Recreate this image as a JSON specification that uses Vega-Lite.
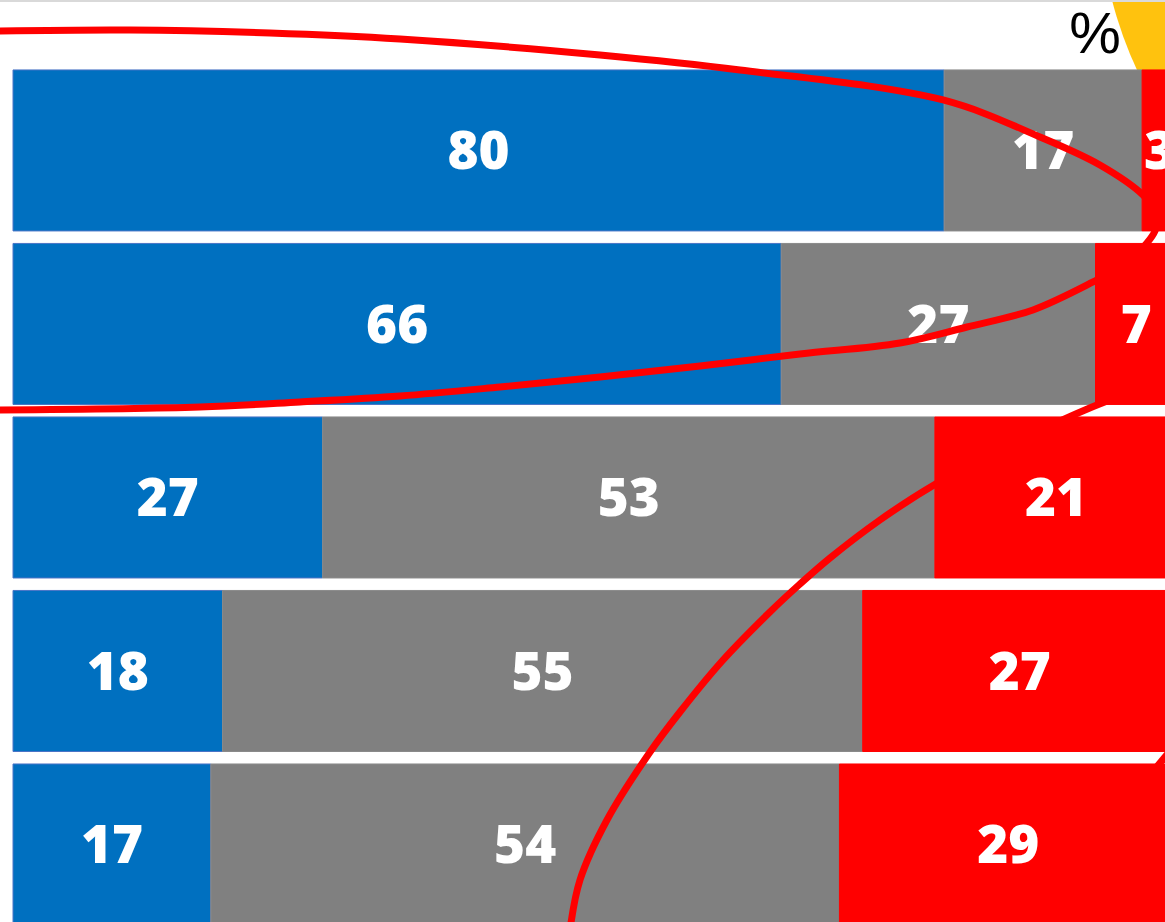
{
  "$schema": "https://vega.github.io/schema/vega-lite/v6.json",
  "width": 1165,
  "height": 922,
  "autosize": {"type": "none"},
  "padding": 0,
  "background": "white",
  "config": {"view": {"stroke": null}},
  "datasets": {
    "bars": [
      {"row": "1", "cat": "favorable", "ord": 1, "value": 80, "label": 80},
      {"row": "1", "cat": "neutral", "ord": 2, "value": 17, "label": 17},
      {"row": "1", "cat": "unfavorable", "ord": 3, "value": 3, "label": 3},
      {"row": "2", "cat": "favorable", "ord": 1, "value": 66, "label": 66},
      {"row": "2", "cat": "neutral", "ord": 2, "value": 27, "label": 27},
      {"row": "2", "cat": "unfavorable", "ord": 3, "value": 7, "label": 7},
      {"row": "3", "cat": "favorable", "ord": 1, "value": 26.6, "label": 27},
      {"row": "3", "cat": "neutral", "ord": 2, "value": 52.6, "label": 53},
      {"row": "3", "cat": "unfavorable", "ord": 3, "value": 20.8, "label": 21},
      {"row": "4", "cat": "favorable", "ord": 1, "value": 18, "label": 18},
      {"row": "4", "cat": "neutral", "ord": 2, "value": 55, "label": 55},
      {"row": "4", "cat": "unfavorable", "ord": 3, "value": 27, "label": 27},
      {"row": "5", "cat": "favorable", "ord": 1, "value": 17, "label": 17},
      {"row": "5", "cat": "neutral", "ord": 2, "value": 54, "label": 54},
      {"row": "5", "cat": "unfavorable", "ord": 3, "value": 29, "label": 29}
    ],
    "curves": [
      {"curve": "a", "i": 1, "x": -1.546, "y": 0.3112},
      {"curve": "a", "i": 2, "x": 10.05, "y": 0.3055},
      {"curve": "a", "i": 3, "x": 22.08, "y": 0.3228},
      {"curve": "a", "i": 4, "x": 33.25, "y": 0.3573},
      {"curve": "a", "i": 5, "x": 50.43, "y": 0.4496},
      {"curve": "a", "i": 6, "x": 62.46, "y": 0.536},
      {"curve": "a", "i": 7, "x": 79.9, "y": 0.7089},
      {"curve": "a", "i": 8, "x": 88.23, "y": 0.9222},
      {"curve": "a", "i": 9, "x": 93.38, "y": 1.0836},
      {"curve": "a", "i": 10, "x": 97.08, "y": 1.2565},
      {"curve": "a", "i": 11, "x": 98.37, "y": 1.3718},
      {"curve": "a", "i": 12, "x": 98.11, "y": 1.464},
      {"curve": "a", "i": 13, "x": 97.42, "y": 1.5331},
      {"curve": "a", "i": 14, "x": 95.53, "y": 1.6599},
      {"curve": "a", "i": 15, "x": 93.13, "y": 1.7464},
      {"curve": "a", "i": 16, "x": 87.63, "y": 1.9193},
      {"curve": "a", "i": 17, "x": 81.96, "y": 2.0173},
      {"curve": "a", "i": 18, "x": 76.2, "y": 2.1095},
      {"curve": "a", "i": 19, "x": 67.61, "y": 2.1729},
      {"curve": "a", "i": 20, "x": 59.02, "y": 2.2421},
      {"curve": "a", "i": 21, "x": 50.43, "y": 2.3055},
      {"curve": "a", "i": 22, "x": 41.84, "y": 2.3631},
      {"curve": "a", "i": 23, "x": 33.25, "y": 2.415},
      {"curve": "a", "i": 24, "x": 24.66, "y": 2.4496},
      {"curve": "a", "i": 25, "x": 16.07, "y": 2.4784},
      {"curve": "a", "i": 26, "x": -1.546, "y": 2.4957},
      {"curve": "b", "i": 1, "x": 47.85, "y": 5.4928},
      {"curve": "b", "i": 2, "x": 48.71, "y": 5.2046},
      {"curve": "b", "i": 3, "x": 51.03, "y": 4.8588},
      {"curve": "b", "i": 4, "x": 54.73, "y": 4.4669},
      {"curve": "b", "i": 5, "x": 57.3, "y": 4.2363},
      {"curve": "b", "i": 6, "x": 61.0, "y": 3.9366},
      {"curve": "b", "i": 7, "x": 65.03, "y": 3.6599},
      {"curve": "b", "i": 8, "x": 67.61, "y": 3.4986},
      {"curve": "b", "i": 9, "x": 70.19, "y": 3.3487},
      {"curve": "b", "i": 10, "x": 74.48, "y": 3.1297},
      {"curve": "b", "i": 11, "x": 79.12, "y": 2.928},
      {"curve": "b", "i": 12, "x": 84.79, "y": 2.7262},
      {"curve": "b", "i": 13, "x": 92.1, "y": 2.4957},
      {"curve": "b", "i": 14, "x": 99.83, "y": 2.2997},
      {"curve": "c", "i": 1, "x": 97.68, "y": 4.5994},
      {"curve": "c", "i": 2, "x": 99.83, "y": 4.4265}
    ],
    "marks": [
      {"label": "%", "x": 92.96, "y": 0.3401}
    ],
    "badge": [
      {"x": 128.44, "y": -0.4553}
    ]
  },
  "layer": [
    {
      "data": {"name": "badge"},
      "mark": {"type": "point", "shape": "circle", "filled": true, "size": 669124, "color": "#FFC20E", "opacity": 1, "strokeWidth": 0, "clip": true},
      "encoding": {
        "x": {"field": "x", "type": "quantitative", "scale": {"domain": [-1.117, 98.97], "nice": false, "zero": false}, "axis": null},
        "y": {"field": "y", "type": "quantitative", "scale": {"domain": [0.1326, 5.4467], "reverse": true, "nice": false, "zero": false}, "axis": null}
      }
    },
    {
      "data": {"name": "bars"},
      "transform": [
        {"stack": "value", "groupby": ["row"], "sort": [{"field": "ord", "order": "ascending"}], "as": ["v0", "v1"]},
        {"calculate": "(datum.v0 + datum.v1) / 2", "as": "mid"}
      ],
      "encoding": {
        "y": {"field": "row", "type": "nominal", "scale": {"type": "band", "domain": ["1", "2", "3", "4", "5"], "range": [0, 925], "paddingInner": 0.072, "paddingOuter": 0.2015, "align": 1}, "axis": null}
      },
      "layer": [
        {
          "mark": {"type": "bar", "strokeWidth": 1, "clip": true},
          "encoding": {
            "x": {"field": "v0", "type": "quantitative", "scale": {"domain": [-1.117, 98.97], "nice": false, "zero": false}, "axis": null},
            "x2": {"field": "v1"},
            "color": {"field": "cat", "type": "nominal", "scale": {"domain": ["favorable", "neutral", "unfavorable"], "range": ["#0070C0", "#808080", "#FF0000"]}, "legend": null},
            "stroke": {"field": "cat", "type": "nominal", "scale": {"domain": ["favorable", "neutral", "unfavorable"], "range": ["#4a74c6", "#8a8a8a", "#FF0000"]}, "legend": null}
          }
        },
        {
          "mark": {"type": "text", "font": "Open Sans", "fontWeight": 800, "fontSize": 53, "color": "white", "align": "center", "baseline": "middle", "dy": 3, "clip": true},
          "encoding": {
            "x": {"field": "mid", "type": "quantitative", "scale": {"domain": [-1.117, 98.97], "nice": false, "zero": false}, "axis": null},
            "text": {"field": "label", "type": "quantitative", "format": ".0f"}
          }
        }
      ]
    },
    {
      "data": {"name": "curves"},
      "mark": {"type": "line", "color": "#FF0000", "strokeWidth": 7, "interpolate": "catmull-rom", "clip": true},
      "encoding": {
        "x": {"field": "x", "type": "quantitative", "scale": {"domain": [-1.117, 98.97], "nice": false, "zero": false}, "axis": null},
        "y": {"field": "y", "type": "quantitative", "scale": {"domain": [0.1326, 5.4467], "reverse": true, "nice": false, "zero": false}, "axis": null},
        "detail": {"field": "curve", "type": "nominal"},
        "order": {"field": "i", "type": "quantitative"}
      }
    },
    {
      "data": {"name": "marks"},
      "layer": [
        {
          "mark": {"type": "text", "font": "Liberation Sans", "fontSize": 58, "color": "black", "align": "center", "baseline": "middle"},
          "encoding": {
            "x": {"field": "x", "type": "quantitative", "scale": {"domain": [-1.117, 98.97], "nice": false, "zero": false}, "axis": null},
            "y": {"field": "y", "type": "quantitative", "scale": {"domain": [0.1326, 5.4467], "reverse": true, "nice": false, "zero": false}, "axis": null},
            "text": {"field": "label"}
          }
        },
        {
          "mark": {"type": "rule", "color": "#d9d9d9", "strokeWidth": 2},
          "encoding": {
            "y": {"datum": 0.1384, "type": "quantitative", "scale": {"domain": [0.1326, 5.4467], "reverse": true, "nice": false, "zero": false}, "axis": null}
          }
        }
      ]
    }
  ],
  "resolve": {"scale": {"y": "independent"}}
}
